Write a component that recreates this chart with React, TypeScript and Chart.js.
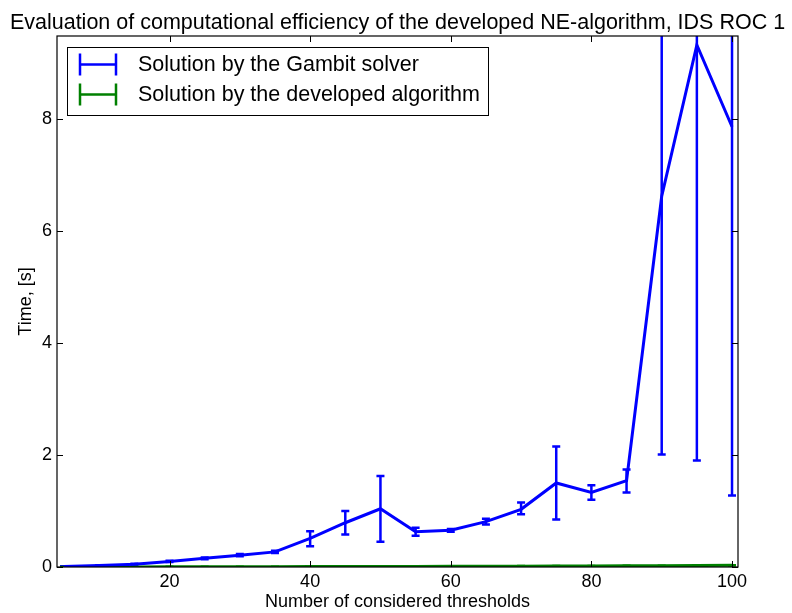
import React, { useEffect, useRef } from "react";
import { Chart, registerables } from "chart.js";

Chart.register(...registerables);

const thresholds = [5, 10, 15, 20, 25, 30, 35, 40, 45, 50, 55, 60, 65, 70, 75, 80, 85, 90, 95, 100];
const gambitMean = [0.01, 0.025, 0.05, 0.1, 0.155, 0.21, 0.27, 0.51, 0.79, 1.04, 0.63, 0.655, 0.81, 1.03, 1.5, 1.33, 1.54, 6.62, 9.32, 7.86];
const gambitLow = [0.005, 0.02, 0.04, 0.09, 0.14, 0.19, 0.25, 0.37, 0.58, 0.45, 0.56, 0.63, 0.76, 0.94, 0.85, 1.2, 1.33, 2.01, 1.9, 1.275];
const gambitHigh = [0.015, 0.03, 0.06, 0.11, 0.17, 0.23, 0.29, 0.64, 1.0, 1.625, 0.7, 0.68, 0.86, 1.15, 2.15, 1.46, 1.74, 11.23, 16.74, 14.44];
const developedMean = [0.001, 0.002, 0.002, 0.003, 0.004, 0.005, 0.006, 0.007, 0.008, 0.01, 0.011, 0.012, 0.013, 0.015, 0.017, 0.019, 0.021, 0.023, 0.026, 0.03];
const developedLow = [0.001, 0.002, 0.002, 0.003, 0.004, 0.005, 0.006, 0.007, 0.008, 0.009, 0.01, 0.011, 0.012, 0.014, 0.016, 0.018, 0.02, 0.022, 0.025, 0.028];
const developedHigh = [0.001, 0.002, 0.002, 0.003, 0.004, 0.005, 0.006, 0.007, 0.008, 0.011, 0.012, 0.013, 0.014, 0.016, 0.018, 0.02, 0.022, 0.024, 0.027, 0.032];
const xTicks = [20, 40, 60, 80, 100];
const yTicks = [0, 2, 4, 6, 8];
const seriesNames = ["Solution by the Gambit solver", "Solution by the developed algorithm"];
const seriesColors = ["#0000ff", "#008000"];
const titleText = "Evaluation of computational efficiency of the developed NE-algorithm, IDS ROC 1";
const xTitle = "Number of considered thresholds";
const yTitle = "Time, [s]";

const FONT = "'Liberation Sans', Arial, sans-serif";
const errors = [
  { low: gambitLow, high: gambitHigh },
  { low: developedLow, high: developedHigh },
];

const errorBarPlugin = {
  id: "errorBars",
  beforeDatasetsDraw(chart: any) {
    const { ctx, chartArea } = chart;
    const xs = chart.scales.x;
    const ys = chart.scales.y;
    ctx.save();
    ctx.beginPath();
    ctx.rect(chartArea.left, chartArea.top, chartArea.right - chartArea.left, chartArea.bottom - chartArea.top);
    ctx.clip();
    errors.forEach((e, di) => {
      ctx.strokeStyle = seriesColors[di];
      ctx.lineWidth = 2.5;
      thresholds.forEach((t, i) => {
        const px = xs.getPixelForValue(t);
        const y1 = ys.getPixelForValue(e.low[i]);
        const y2 = ys.getPixelForValue(e.high[i]);
        ctx.beginPath();
        ctx.moveTo(px, y1);
        ctx.lineTo(px, y2);
        ctx.moveTo(px - 4, y1);
        ctx.lineTo(px + 4, y1);
        ctx.moveTo(px - 4, y2);
        ctx.lineTo(px + 4, y2);
        ctx.stroke();
      });
    });
    ctx.restore();
  },
};

const framePlugin = {
  id: "frame",
  afterDraw(chart: any) {
    const { ctx, chartArea } = chart;
    const { left, right, top, bottom } = chartArea;
    const xs = chart.scales.x;
    const ys = chart.scales.y;
    ctx.save();
    ctx.strokeStyle = "#000";
    ctx.lineWidth = 1;
    ctx.beginPath();
    xTicks.forEach((v) => {
      const px = Math.round(xs.getPixelForValue(v)) + 0.5;
      ctx.moveTo(px, bottom);
      ctx.lineTo(px, bottom - 6);
      ctx.moveTo(px, top);
      ctx.lineTo(px, top + 6);
    });
    yTicks.forEach((v) => {
      const py = Math.round(ys.getPixelForValue(v)) + 0.5;
      ctx.moveTo(left, py);
      ctx.lineTo(left + 6, py);
      ctx.moveTo(right, py);
      ctx.lineTo(right - 6, py);
    });
    ctx.stroke();
    ctx.lineWidth = 1.2;
    ctx.strokeRect(left, top, right - left, bottom - top);

    // title
    ctx.fillStyle = "#000";
    ctx.font = `21.5px ${FONT}`;
    ctx.textAlign = "center";
    ctx.textBaseline = "alphabetic";
    ctx.fillText(titleText, (left + right) / 2, 29);

    // axis titles
    ctx.font = `18px ${FONT}`;
    ctx.fillText(xTitle, (left + right) / 2, 607);
    ctx.save();
    ctx.translate(31, (top + bottom) / 2);
    ctx.rotate(-Math.PI / 2);
    ctx.fillText(yTitle, 0, 0);
    ctx.restore();

    // legend
    const lx = 67.5, ly = 47.5, lw = 421, lh = 68;
    ctx.fillStyle = "#fff";
    ctx.fillRect(lx, ly, lw, lh);
    ctx.strokeStyle = "#000";
    ctx.lineWidth = 1;
    ctx.strokeRect(lx, ly, lw, lh);
    seriesNames.forEach((name, i) => {
      const cy = 64.5 + i * 30;
      ctx.strokeStyle = seriesColors[i];
      ctx.lineWidth = 2.5;
      ctx.beginPath();
      ctx.moveTo(80, cy);
      ctx.lineTo(116, cy);
      ctx.moveTo(80, cy - 11);
      ctx.lineTo(80, cy + 11);
      ctx.moveTo(116, cy - 11);
      ctx.lineTo(116, cy + 11);
      ctx.stroke();
      ctx.fillStyle = "#000";
      ctx.font = `21.5px ${FONT}`;
      ctx.textAlign = "left";
      ctx.textBaseline = "middle";
      ctx.fillText(name, 138, cy + 1);
    });
    ctx.restore();
  },
};

export default function App() {
  const ref = useRef<HTMLCanvasElement>(null);
  useEffect(() => {
    if (!ref.current) return;
    const chart = new Chart(ref.current, {
      type: "line",
      data: {
        datasets: [
          {
            label: seriesNames[0],
            data: thresholds.map((t, i) => ({ x: t, y: gambitMean[i] })),
            borderColor: seriesColors[0],
            borderWidth: 3,
            pointRadius: 0,
            tension: 0,
            fill: false,
          },
          {
            label: seriesNames[1],
            data: thresholds.map((t, i) => ({ x: t, y: developedMean[i] })),
            borderColor: seriesColors[1],
            borderWidth: 3,
            pointRadius: 0,
            tension: 0,
            fill: false,
          },
        ],
      },
      options: {
        responsive: false,
        animation: false,
        devicePixelRatio: 1,
        layout: { padding: { top: 36, right: 54, left: 0, bottom: 0 } },
        plugins: { legend: { display: false }, title: { display: false }, tooltip: { enabled: false } },
        scales: {
          x: {
            type: "linear",
            min: 4,
            max: 100.85,
            grid: { display: false, drawTicks: false },
            border: { display: false },
            afterBuildTicks: (s: any) => {
              s.ticks = xTicks.map((v) => ({ value: v }));
            },
            afterFit: (s: any) => {
              s.height = 46;
            },
            ticks: { color: "#000", font: { family: FONT, size: 18 }, padding: 4, maxRotation: 0, autoSkip: false },
          },
          y: {
            type: "linear",
            min: 0,
            max: 9.48,
            grid: { display: false, drawTicks: false },
            border: { display: false },
            afterBuildTicks: (s: any) => {
              s.ticks = yTicks.map((v) => ({ value: v }));
            },
            afterFit: (s: any) => {
              s.width = 57;
            },
            ticks: { color: "#000", font: { family: FONT, size: 18 }, padding: 5, autoSkip: false },
          },
        },
      },
      plugins: [errorBarPlugin, framePlugin],
    });
    return () => chart.destroy();
  }, []);
  return (
    <div style={{ position: "fixed", left: 0, top: 0, width: 792, height: 613, background: "#fff" }}>
      <canvas ref={ref} width={792} height={613} style={{ width: 792, height: 613 }} />
    </div>
  );
}
